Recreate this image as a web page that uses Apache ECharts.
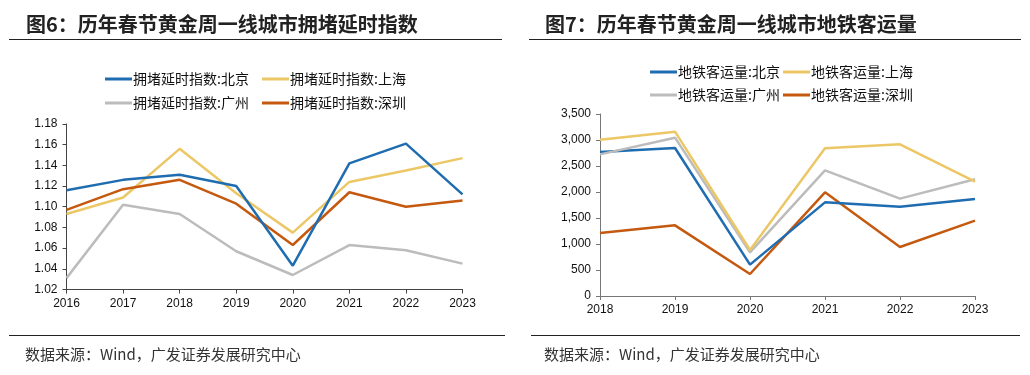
<!DOCTYPE html>
<html>
<head>
<meta charset="utf-8">
<script src="https://cdn.jsdelivr.net/npm/echarts@6/dist/echarts.min.js"></script>
<style>
  html, body { margin: 0; padding: 0; background: #fff; }
  #chart { width: 1030px; height: 375px; }
</style>
</head>
<body>
<div id="chart"></div>
<script>
// 图6 拥堵延时指数
const yearsJam = ['2016', '2017', '2018', '2019', '2020', '2021', '2022', '2023']
const jamBeijing = [1.116, 1.126, 1.131, 1.120, 1.043, 1.142, 1.161, 1.112]
const jamShanghai = [1.093, 1.109, 1.156, 1.113, 1.075, 1.124, 1.135, 1.147]
const jamGuangzhou = [1.031, 1.102, 1.093, 1.057, 1.034, 1.063, 1.058, 1.045]
const jamShenzhen = [1.097, 1.117, 1.126, 1.103, 1.063, 1.114, 1.100, 1.106]

// 图7 地铁客运量
const yearsMetro = ['2018', '2019', '2020', '2021', '2022', '2023']
const metroBeijing = [2769, 2846, 603, 1801, 1718, 1865]
const metroShanghai = [3006, 3160, 885, 2840, 2917, 2199]
const metroGuangzhou = [2724, 3045, 840, 2417, 1872, 2244]
const metroShenzhen = [1212, 1359, 423, 1994, 942, 1449]

const COLORS = ['#1f6db0', '#ecc766', '#bcbcbc', '#c4590f']
const LATIN = '"Liberation Sans", Arial, sans-serif'
const CJK = '"Noto Sans CJK SC", sans-serif'

const chart = echarts.init(document.getElementById('chart'))

function mkLine(name, data, color, xi, yi) {
  return {
    name, type: 'line', data, xAxisIndex: xi, yAxisIndex: yi,
    symbol: 'none', smooth: false,
    lineStyle: { color, width: 2.5 }, itemStyle: { color },
  }
}

function mkLegend(name, color, left, top) {
  return {
    data: [name], left, top, icon: 'rect', itemWidth: 27, itemHeight: 3, itemGap: 0,
    textStyle: { color: '#111', fontFamily: CJK, fontSize: 14, padding: [0, 0, 0, -4] },
    itemStyle: { color },
  }
}

const axisCommon = {
  axisLine: { show: true, lineStyle: { color: '#444', width: 1 } },
  axisTick: { show: true, length: 4, inside: false, lineStyle: { color: '#444' } },
  splitLine: { show: false },
  axisLabel: { color: '#111', fontFamily: LATIN, fontSize: 12 },
}

const jamNames = ['拥堵延时指数:北京', '拥堵延时指数:上海', '拥堵延时指数:广州', '拥堵延时指数:深圳']
const metroNames = ['地铁客运量:北京', '地铁客运量:上海', '地铁客运量:广州', '地铁客运量:深圳']

chart.setOption({
  animation: false,
  title: [
    { text: '图6：历年春节黄金周一线城市拥堵延时指数', left: 21, top: 9,
      textStyle: { fontFamily: CJK, fontSize: 20, fontWeight: 'bold', color: '#222' } },
    { text: '图7：历年春节黄金周一线城市地铁客运量', left: 540, top: 9,
      textStyle: { fontFamily: CJK, fontSize: 20, fontWeight: 'bold', color: '#222' } },
    { text: '数据来源：Wind，广发证券发展研究中心', left: 20, top: 342,
      textStyle: { fontFamily: CJK, fontSize: 15, fontWeight: 'normal', color: '#333' } },
    { text: '数据来源：Wind，广发证券发展研究中心', left: 539, top: 342,
      textStyle: { fontFamily: CJK, fontSize: 15, fontWeight: 'normal', color: '#333' } },
  ],
  legend: [
    mkLegend(jamNames[0], COLORS[0], 100, 67),
    mkLegend(jamNames[1], COLORS[1], 257, 67),
    mkLegend(jamNames[2], COLORS[2], 100, 91),
    mkLegend(jamNames[3], COLORS[3], 257, 91),
    mkLegend(metroNames[0], COLORS[0], 645, 60),
    mkLegend(metroNames[1], COLORS[1], 778, 60),
    mkLegend(metroNames[2], COLORS[2], 645, 83),
    mkLegend(metroNames[3], COLORS[3], 778, 83),
  ],
  graphic: [
    { type: 'line', shape: { x1: 9, y1: 39.5, x2: 502, y2: 39.5 }, style: { stroke: '#222', lineWidth: 1 } },
    { type: 'line', shape: { x1: 529, y1: 39.5, x2: 1021, y2: 39.5 }, style: { stroke: '#222', lineWidth: 1 } },
    { type: 'line', shape: { x1: 9, y1: 335.5, x2: 505, y2: 335.5 }, style: { stroke: '#222', lineWidth: 1 } },
    { type: 'line', shape: { x1: 531, y1: 335.5, x2: 1020, y2: 335.5 }, style: { stroke: '#222', lineWidth: 1 } },
  ],
  grid: [
    { left: 66.5, top: 124, width: 396, height: 165.5 },
    { left: 600, top: 114, width: 375, height: 182 },
  ],
  xAxis: [
    { ...axisCommon, type: 'category', gridIndex: 0, data: yearsJam, boundaryGap: false,
      axisLabel: { ...axisCommon.axisLabel, margin: 8 } },
    { ...axisCommon, type: 'category', gridIndex: 1, data: yearsMetro, boundaryGap: false,
      axisLine: { show: true, lineStyle: { color: '#777' } },
      axisTick: { show: true, length: 4, lineStyle: { color: '#777' } },
      axisLabel: { ...axisCommon.axisLabel, margin: 8 } },
  ],
  yAxis: [
    { ...axisCommon, type: 'value', gridIndex: 0, min: 1.02, max: 1.18, interval: 0.02,
      axisLabel: { ...axisCommon.axisLabel, margin: 9, formatter: v => v.toFixed(2) } },
    { ...axisCommon, type: 'value', gridIndex: 1, min: 0, max: 3500, interval: 500,
      axisLine: { show: true, lineStyle: { color: '#777' } },
      axisTick: { show: true, length: 4, lineStyle: { color: '#777' } },
      axisLabel: { ...axisCommon.axisLabel, margin: 9, formatter: v => v.toLocaleString('en-US') } },
  ],
  series: [
    mkLine(jamNames[2], jamGuangzhou, COLORS[2], 0, 0),
    mkLine(jamNames[1], jamShanghai, COLORS[1], 0, 0),
    mkLine(jamNames[3], jamShenzhen, COLORS[3], 0, 0),
    mkLine(jamNames[0], jamBeijing, COLORS[0], 0, 0),
    mkLine(metroNames[3], metroShenzhen, COLORS[3], 1, 1),
    mkLine(metroNames[0], metroBeijing, COLORS[0], 1, 1),
    mkLine(metroNames[2], metroGuangzhou, COLORS[2], 1, 1),
    mkLine(metroNames[1], metroShanghai, COLORS[1], 1, 1),
  ],
})
</script>
</body>
</html>
